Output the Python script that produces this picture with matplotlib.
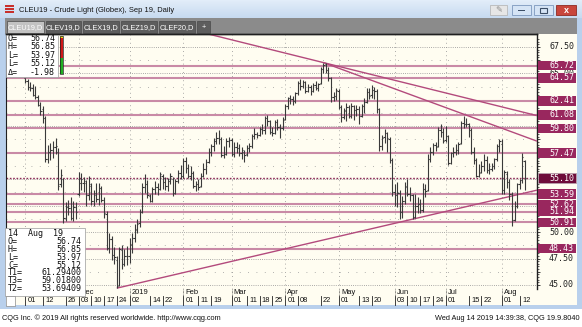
import numpy as np
import pandas as pd
import matplotlib
matplotlib.use("Agg")
import matplotlib.pyplot as plt
from matplotlib.patches import Rectangle
from matplotlib.transforms import blended_transform_factory as btf
from matplotlib.colors import LinearSegmentedColormap

W, H = 582, 327

# ---------------- data ----------------
holidays = ["2018-11-22", "2018-12-25", "2019-01-01", "2019-01-21",
            "2019-02-18", "2019-04-19", "2019-05-27", "2019-07-04"]
dates = pd.bdate_range("2018-11-01", "2019-08-14")
dates = dates[~dates.isin(pd.to_datetime(holidays))]

opens = [64.6, 64.3, 63.7, 63.6, 63.0, 62.8, 62.0, 61.6, 60.8, 56.9, 57.6, 57.8, 58.0, 57.6, 54.5, 55.0, 51.3, 52.4, 52.3, 51.3, 52.4,
         53.6, 54.6, 54.6, 54.6, 53.5, 54.4, 52.9, 53.7, 53.1, 54.2, 53.0, 51.7, 48.5, 49.3, 47.8, 47.4, 45.0, 48.3, 47.0, 47.7,
         47.7, 48.8, 49.4, 50.3, 50.9, 51.9, 54.3, 54.5, 53.4, 52.9, 54.1, 54.3, 54.1, 55.3, 54.7, 54.4, 54.8, 55.0, 53.7, 54.8, 55.6,
         55.3, 56.7, 56.1, 55.3, 55.6, 54.4, 54.5, 54.4, 55.3, 56.0, 56.6, 57.6, 58.1, 58.6, 58.9, 58.8, 57.3, 57.4, 58.6,
         58.7, 57.4, 58.0, 57.9, 57.5, 57.6, 57.4, 57.9, 58.1, 59.1, 59.3, 59.2, 59.7, 59.6, 60.8, 60.5, 59.5, 59.4, 60.4, 59.9, 59.8,
         60.7, 61.9, 62.7, 62.6, 62.4, 63.1, 64.1, 63.8, 64.2, 63.3, 63.7, 63.3, 63.9, 63.6, 64.1, 65.4, 65.9, 65.3, 64.6, 62.8, 62.9,
         63.3, 61.8, 60.9, 61.4, 61.8, 61.0, 61.9, 61.5, 61.6, 61.0, 61.9, 62.3, 63.2, 63.0, 63.4, 63.3, 61.6, 58.1, 59.0, 59.4, 58.8, 56.8,
         53.8, 53.5, 53.7, 51.9, 52.9, 54.4, 53.6, 53.5, 51.4, 52.5, 52.7, 52.1, 54.1, 54.0, 56.9, 57.6, 58.2, 58.1, 59.6, 59.5,
         58.7, 59.1, 56.5, 57.5, 57.6, 57.8, 58.4, 60.3, 60.2, 60.2, 59.6, 57.6, 56.8, 55.3, 55.7, 56.2, 56.8, 55.9, 56.0, 56.2, 56.9, 58.1,
         58.3, 54.0, 55.5, 54.7, 53.6, 51.1, 52.5, 54.5, 54.9, 56.74]
highs = [64.6, 64.5, 64.2, 64.0, 63.8, 63.0, 62.3, 61.9, 61.0, 58.2, 58.4, 58.6, 58.9, 57.9, 56.0, 55.1, 52.8, 53.0, 53.3, 52.9, 52.8,
         55.7, 55.6, 55.2, 54.9, 55.3, 54.6, 54.0, 54.6, 54.6, 54.4, 53.3, 52.0, 49.9, 49.6, 48.6, 47.7, 48.6, 48.8, 48.4, 48.7,
         49.4, 49.9, 50.8, 51.2, 52.2, 54.6, 55.5, 54.9, 53.6, 54.3, 54.8, 54.6, 55.7, 55.5, 55.2, 55.1, 55.6, 55.2, 55.0, 55.9, 56.3,
         57.0, 57.1, 56.4, 56.2, 55.8, 54.8, 55.0, 55.6, 56.5, 56.9, 57.9, 58.3, 58.9, 59.5, 59.6, 59.0, 58.1, 58.9, 59.0,
         58.9, 58.5, 58.5, 58.3, 58.0, 57.8, 58.2, 58.4, 59.3, 59.8, 59.5, 59.9, 60.2, 61.0, 61.1, 60.6, 59.9, 60.6, 60.7, 60.2, 60.9,
         62.1, 62.8, 63.0, 62.9, 63.2, 64.3, 64.5, 64.4, 64.3, 64.0, 63.9, 64.1, 64.3, 64.1, 65.6, 66.0, 66.0, 65.6, 64.7, 63.2, 63.6,
         63.5, 62.0, 61.7, 62.2, 62.0, 62.2, 62.0, 62.0, 61.9, 62.1, 62.7, 63.6, 63.6, 63.9, 63.7, 63.5, 61.7, 59.2, 59.7, 59.5, 59.0, 57.0,
         54.5, 54.7, 54.0, 53.4, 54.7, 55.0, 54.3, 53.6, 53.6, 53.3, 53.1, 54.6, 54.5, 57.4, 58.0, 58.4, 58.5, 59.9, 60.2, 59.8,
         60.0, 59.2, 57.6, 58.0, 58.3, 58.5, 60.5, 61.0, 60.8, 60.3, 59.8, 58.0, 57.0, 56.4, 56.7, 57.4, 57.2, 56.5, 56.5, 57.0, 58.3, 58.8,
         58.8, 55.9, 55.8, 55.0, 53.8, 52.9, 54.6, 55.0, 57.47, 56.85]
lows = [64.1, 63.4, 63.3, 62.9, 62.6, 61.9, 61.1, 60.3, 56.6, 56.5, 56.8, 57.0, 57.4, 54.0, 54.3, 50.9, 51.0, 51.6, 51.1, 51.0, 51.2,
        53.4, 54.0, 53.8, 52.5, 53.0, 52.6, 52.5, 52.8, 52.6, 52.8, 51.3, 48.3, 48.0, 47.4, 47.0, 44.7, 44.9, 46.5, 46.8, 46.9,
        47.1, 48.0, 49.1, 49.9, 50.5, 51.8, 53.7, 53.2, 52.8, 52.8, 53.6, 53.5, 54.0, 54.1, 54.0, 53.9, 54.5, 53.4, 53.6, 54.6, 55.0,
        55.1, 55.6, 55.1, 54.9, 54.2, 53.9, 54.0, 54.3, 55.2, 55.5, 56.5, 57.2, 57.7, 58.3, 58.3, 57.1, 57.0, 57.3, 58.0,
        57.2, 57.1, 57.5, 57.2, 56.9, 56.6, 57.2, 57.6, 57.9, 58.8, 58.9, 59.1, 59.3, 59.3, 60.0, 59.3, 59.1, 59.3, 59.6, 58.9, 59.6,
        60.6, 61.6, 62.1, 62.0, 62.2, 63.0, 63.4, 63.6, 63.1, 63.2, 63.0, 63.2, 63.4, 63.3, 64.0, 65.0, 65.0, 64.3, 62.3, 62.4, 62.5,
        61.6, 60.4, 60.7, 60.5, 60.8, 60.8, 60.6, 61.0, 60.2, 60.9, 61.3, 62.2, 62.6, 62.7, 62.6, 61.3, 57.7, 57.8, 58.4, 57.6, 56.5, 53.4,
        52.5, 52.4, 51.2, 51.3, 52.7, 53.4, 52.9, 51.2, 51.3, 51.8, 51.8, 51.9, 53.3, 53.9, 56.6, 57.3, 57.7, 58.0, 59.0, 58.4,
        58.5, 56.3, 56.4, 57.1, 57.3, 57.4, 58.3, 59.8, 59.9, 59.0, 57.4, 56.4, 55.2, 55.2, 55.6, 55.8, 55.6, 55.5, 55.8, 56.0, 56.7, 57.6,
        53.6, 53.6, 54.2, 53.0, 50.6, 51.0, 52.3, 54.1, 54.6, 53.97]
closes = [64.3, 63.7, 63.6, 63.0, 62.8, 62.0, 61.4, 60.8, 56.9, 57.6, 57.8, 58.0, 58.1, 54.4, 55.4, 51.3, 52.4, 52.3, 51.3, 52.4, 51.9,
          54.6, 55.0, 54.8, 53.5, 54.5, 52.9, 53.5, 53.1, 54.2, 53.0, 51.8, 48.5, 49.3, 47.8, 47.6, 44.9, 48.4, 47.0, 47.7, 47.7,
          48.9, 49.4, 50.2, 50.8, 51.9, 54.3, 54.5, 53.5, 52.9, 54.1, 54.3, 54.1, 55.5, 54.7, 54.4, 54.8, 55.3, 53.7, 54.8, 55.6, 55.3,
          56.7, 56.1, 55.3, 55.6, 54.4, 54.5, 54.3, 55.3, 56.0, 56.6, 57.6, 58.1, 58.6, 58.9, 58.8, 57.3, 57.4, 58.6, 58.7,
          57.4, 58.0, 57.9, 57.5, 57.8, 57.3, 57.9, 58.1, 59.1, 59.3, 59.2, 59.7, 59.6, 60.8, 60.5, 59.5, 59.4, 60.4, 59.9, 59.8, 60.6,
          61.9, 62.7, 62.6, 62.4, 63.1, 64.1, 63.8, 64.2, 63.3, 63.7, 63.3, 63.9, 63.6, 64.0, 65.4, 65.8, 65.3, 64.6, 62.8, 62.9, 63.4,
          61.8, 60.9, 61.5, 61.8, 61.0, 61.9, 61.5, 61.6, 61.0, 61.9, 62.3, 63.2, 62.9, 63.4, 63.3, 61.6, 58.1, 58.9, 59.4, 58.9, 56.8, 53.8,
          53.5, 53.7, 51.9, 52.9, 54.3, 53.6, 53.5, 51.4, 52.5, 52.7, 52.1, 54.1, 53.9, 56.9, 57.6, 58.2, 58.0, 59.6, 59.5, 58.6,
          59.1, 56.5, 57.5, 57.6, 57.8, 58.3, 60.3, 60.2, 60.2, 59.6, 57.6, 56.8, 55.3, 55.6, 56.2, 56.8, 55.9, 56.0, 56.2, 56.9, 58.1, 58.6,
          54.0, 55.7, 54.7, 53.6, 51.1, 52.5, 54.5, 54.9, 57.1, 55.12]

levels = [65.72, 64.57, 62.41, 61.08, 59.80, 57.47, 53.59, 52.62, 51.94, 50.91, 48.43]
last_price = 55.10
axis_prices = [67.50, 65.00, 50.00, 47.50, 45.00]

# trend lines: (start date, start price, end date, end price)
trend_A = ("2019-04-23", 66.02, "2019-08-14", 61.294)
trend_B = ("2019-04-23", 66.02, "2019-08-14", 59.018)
trend_C = ("2018-12-24", 44.70, "2019-08-14", 53.694)

day_ticks = ["2018-11-01", "2018-11-12", "2018-11-26", "2018-12-03", "2018-12-10", "2018-12-17", "2018-12-24",
             "2019-01-02", "2019-01-14", "2019-01-22", "2019-02-01", "2019-02-11", "2019-02-19", "2019-03-01",
             "2019-03-11", "2019-03-18", "2019-03-25", "2019-04-01", "2019-04-08", "2019-04-22", "2019-05-01",
             "2019-05-13", "2019-05-20", "2019-06-03", "2019-06-10", "2019-06-17", "2019-06-24", "2019-07-01",
             "2019-07-15", "2019-07-22", "2019-08-01", "2019-08-12"]
month_ticks = ["2018-11-01", "2018-12-03", "2019-01-02", "2019-02-01", "2019-03-01", "2019-04-01",
               "2019-05-01", "2019-06-03", "2019-07-01", "2019-08-01"]
month_names = ["Nov", "Dec", "2019", "Feb", "Mar", "Apr", "May", "Jun", "Jul", "Aug"]

info_top = [("O=", "56.74"), ("H=", "56.85"), ("L=", "53.97"), ("L=", "55.12"), ("\u0394=", "-1.98")]
info_bottom = [("O=", "56.74"), ("H=", "56.85"), ("L=", "53.97"), ("C=", "55.12"),
               ("T1=", "61.29400"), ("T3=", "59.01800"), ("T2=", "53.69409")]

# ---------------- styling ----------------
SANS = "Liberation Sans"
MONO = "DejaVu Sans Mono"
BG = "#fffdf1"
LEVEL_C = "#c98aa6"
TREND_C = "#b34a7c"
BOX_C = "#99275e"
BAR_C = "#3a3a3a"
FRAME_C = "#b9d0ec"


def frac(x0, y0, x1, y1):
    return [x0 / W, 1 - y1 / H, (x1 - x0) / W, (y1 - y0) / H]


fig = plt.figure(figsize=(W / 100, H / 100), dpi=100)
fig.patch.set_facecolor("white")

# ---------- background chrome axes (drawn first) ----------
bg = fig.add_axes([0, 0, 1, 1], zorder=0)
bg.axis("off")


def rect(a, x0, y0, x1, y1, fc, ec="none", lw=0.0, z=1):
    a.add_patch(Rectangle((x0, y0), x1 - x0, y1 - y0, fc=fc, ec=ec, lw=lw, zorder=z))


PX0, PY0, PX1, PY1 = 6, 34, 537, 289

bg.imshow(np.linspace(0, 1, 18)[:, None], extent=(0, W, 18, 0),
          cmap=LinearSegmentedColormap.from_list("t", ["#e2edf9", "#c7daf0"]), aspect="auto", zorder=1)
bg.set_xlim(0, W)
bg.set_ylim(H, 0)
rect(bg, 0, 18, PX0, 309, FRAME_C)
rect(bg, 577, 18, W, 309, FRAME_C)
rect(bg, PX0, 34, 577, 305, BG)
rect(bg, 0, 305, W, 309, FRAME_C)
rect(bg, 0, 309, W, H, "white")

# title bar
for r in range(3):
    for c in range(3):
        rect(bg, 5 + c * 3.2, 4.5 + r * 3.2, 7.6 + c * 3.2, 7.1 + r * 3.2, "#c8302c", z=2)
bg.text(19, 10, "CLEU19 - Crude Light (Globex), Sep 19, Daily", fontsize=5.4, family=SANS,
        color="#111111", va="center", ha="left", zorder=3)
rect(bg, 490, 5, 507, 15, "#e6e6e6", "#b0b0b0", 0.5, z=2)
rect(bg, 512, 5, 531, 15, "#d5e4f5", "#7d98bd", 0.6, z=2)
rect(bg, 534, 5, 553, 15, "#d5e4f5", "#7d98bd", 0.6, z=2)
rect(bg, 556, 5, 576, 15, "#c8463c", "#8f2a22", 0.6, z=2)
rect(bg, 518, 10, 525, 11.4, "#3c4e66", z=3)
rect(bg, 540, 8, 547, 12.5, "none", "#3c4e66", 0.8, z=3)
bg.text(566, 10.2, "x", fontsize=6.5, family=SANS, color="white", ha="center", va="center",
        fontweight="bold", zorder=3)
bg.text(498.5, 10, "\u270e", fontsize=6, family="DejaVu Sans", color="#8a8a8a", ha="center",
        va="center", zorder=3)

# tab bar
rect(bg, PX0 - 1, 18, 577, 34, "#8b8b8b", z=1)
tabs = ["CLEU19,D", "CLEV19,D", "CLEX19,D", "CLEZ19,D", "CLEF20,D", "+"]
tab_x = [(7, 44), (46, 81), (83, 119), (121, 157), (159, 195), (197, 210)]
for k, (t, (a, b)) in enumerate(zip(tabs, tab_x)):
    fc = "#c3c3c3" if k == 0 else "#5d5d5d"
    rect(bg, a, 21, b, 33, fc, "#4a4a4a", 0.5, z=2)
    bg.text((a + b) / 2, 27.3, t, fontsize=5.3, family=SANS, color="white", ha="center",
            va="center", zorder=3)

# footer
bg.text(2, 318.5, "CQG Inc. \u00a9 2019 All rights reserved worldwide. http://www.cqg.com", fontsize=5.3,
        family=SANS, color="#111111", va="center", ha="left")
bg.text(580, 318.5, "Wed Aug 14 2019 14:39:38, CQG 19.9.8040", fontsize=5.3,
        family=SANS, color="#111111", va="center", ha="right")

# ---------- main chart axes ----------
ax = fig.add_axes(frac(PX0, PY0, PX1, PY1), zorder=1)
ax.set_facecolor(BG)

x = np.arange(len(dates))
ax.set_xlim(-7.45, 200.8)
ax.set_ylim(44.62, 68.72)

pos = {d: i for i, d in enumerate(dates)}


def ix(s):
    return pos[pd.Timestamp(s)]


# grid
for p in np.arange(45.0, 68.0, 2.5):
    ax.axhline(p, color="#8f8f8f", lw=0.6, ls=(0, (1, 1.6)), zorder=1)
for p in np.arange(46.25, 68.0, 2.5):
    ax.axhline(p, color="#9a9a9a", lw=0.6, ls=(0, (1, 9)), zorder=1)
for d in month_ticks:
    ax.axvline(ix(d), color="#8f8f8f", lw=0.6, ls=(0, (1, 4)), zorder=1)

# horizontal levels
for lv in levels:
    ax.axhline(lv, color=LEVEL_C, lw=1.5, zorder=2)
ax.axhline(last_price, color="#8c2a58", lw=1.0, ls=(0, (1.2, 1.2)), zorder=2)

# trend lines
xl, xr = ax.get_xlim()
for (d0, p0, d1, p1), extend_left in [(trend_A, True), (trend_B, False), (trend_C, False)]:
    i0, i1 = ix(d0), ix(d1)
    slope = (p1 - p0) / (i1 - i0)
    xa = 40 if extend_left else i0
    ax.plot([xa, xr], [p0 + slope * (xa - i0), p0 + slope * (xr - i0)],
            color=TREND_C, lw=1.0, zorder=3, solid_capstyle="butt")

# OHLC bars
ax.vlines(x, lows, highs, color=BAR_C, lw=0.8, zorder=4)
ax.hlines(opens, x - 0.5, x, color=BAR_C, lw=0.8, zorder=4)
ax.hlines(closes, x, x + 0.5, color=BAR_C, lw=0.8, zorder=4)

# spines / ticks
ax.spines["bottom"].set_visible(False)
for s in ["top", "left", "right"]:
    ax.spines[s].set_color("#202020")
ax.spines["top"].set_linewidth(1.0)
ax.spines["left"].set_linewidth(0.8)
ax.spines["right"].set_linewidth(1.0)
ax.set_xticks([])
ax.yaxis.set_ticks_position("right")
ax.set_yticks(np.arange(45.0, 68.0, 1.25))
ax.set_yticks(np.arange(45.0, 68.5, 0.25), minor=True)
ax.tick_params(axis="y", which="major", direction="out", length=2.5, width=0.6,
               colors="#202020", labelleft=False, labelright=False)
ax.tick_params(axis="y", which="minor", direction="out", length=1.2, width=0.5, colors="#202020")

# right price axis labels
tr = btf(ax.transAxes, ax.transData)
axw = PX1 - PX0
px_per = (PY1 - PY0) / (68.72 - 44.62)
xr_text = (574 - PX0) / axw
for p in axis_prices:
    ax.text(xr_text, p, f"{p:.2f}", transform=tr, ha="right", va="center",
            fontsize=6, family=MONO, color="#222222", clip_on=False, zorder=5)
bx0 = (538 - PX0) / axw
bw = 38 / axw
bh = 9.5 / px_per
for lv in levels:
    ax.add_patch(Rectangle((bx0, lv - bh / 2), bw, bh, transform=tr, fc=BOX_C, ec="none",
                           clip_on=False, zorder=6))
    ax.text(xr_text, lv, f"{lv:.2f}", transform=tr, ha="right", va="center",
            fontsize=6, family=MONO, color="white", clip_on=False, zorder=7)
ax.add_patch(Rectangle((bx0, last_price - bh / 2), bw, bh, transform=tr, fc="#6e0c3a",
                       ec="#b8a0ac", lw=0.6, clip_on=False, zorder=6))
ax.text(xr_text, last_price, f"{last_price:.2f}", transform=tr, ha="right", va="center",
        fontsize=6, family=MONO, color="white", clip_on=False, zorder=7)

# date axis
tb = btf(ax.transData, ax.transAxes)
ah = PY1 - PY0


def ay(ypx):
    return (PY1 - ypx) / ah


for d in day_ticks:
    i = ix(d)
    ax.plot([i, i], [ay(296), ay(305)], transform=tb, color="#202020", lw=0.6, clip_on=False)
    ax.text(i + 0.9, ay(300.5), pd.Timestamp(d).strftime("%d"), transform=tb, ha="left", va="center",
            fontsize=5.4, family=SANS, color="#111111", clip_on=False)
for d, nm in zip(month_ticks, month_names):
    i = ix(d)
    ax.plot([i, i], [ay(289), ay(296)], transform=tb, color="#202020", lw=0.5, ls=(0, (1, 1)),
            clip_on=False)
    ax.text(i + 0.9, ay(292.5), nm, transform=tb, ha="left", va="center",
            fontsize=5.4, family=SANS, color="#111111", clip_on=False)

# ---------- overlay: info boxes ----------
ov = fig.add_axes([0, 0, 1, 1], zorder=10)
ov.set_xlim(0, W)
ov.set_ylim(H, 0)
ov.axis("off")
ov.patch.set_alpha(0)

rect(ov, PX0, 35, 58, 77, "white", "#9a9a9a", 0.5, z=4)
for k, (lab, val) in enumerate(info_top):
    yy = 38.5 + k * 8.4
    ov.text(8, yy, lab, fontsize=6, family=MONO, color="#111111", va="center", ha="left", zorder=5)
    ov.text(55, yy, val, fontsize=6, family=MONO, color="#111111", va="center", ha="right", zorder=5)
rect(ov, 59.5, 35.5, 62.5, 38, "#e8e020", z=4)
rect(ov, 59.5, 38, 62.5, 58, "#d01818", z=4)
rect(ov, 59.5, 58, 62.5, 73.5, "#22b022", z=4)
ov.add_patch(Rectangle((59.5, 35.5), 3, 38, fc="none", ec="#202020", lw=0.5, zorder=5))

rect(ov, PX0 - 1, 228, 85, 295.5, "white", "#9a9a9a", 0.5, z=4)
ov.text(8, 234, "14  Aug  19", fontsize=6, family=MONO, color="#111111", va="center", ha="left", zorder=5)
for k, (lab, val) in enumerate(info_bottom):
    yy = 241.8 + k * 7.75
    ov.text(8, yy, lab, fontsize=6, family=MONO, color="#111111", va="center", ha="left", zorder=5)
    ov.text(81, yy, val, fontsize=6, family=MONO, color="#111111", va="center", ha="right", zorder=5)
rect(ov, PX0, 296, 15, 306, "white", "#8a8a8a", 0.5, z=4)
ov.plot([PX0, PX1], [34, 34], color="#202020", lw=1.0, zorder=2)

fig.savefig("out.png", dpi=100, facecolor="white")
